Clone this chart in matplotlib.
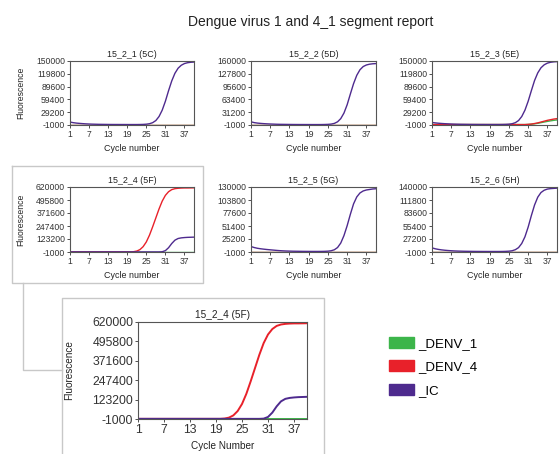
# -*- coding: utf-8 -*-
# Reporte de curvas qPCR, dengue 1 y 4
import matplotlib
matplotlib.use('Agg')
import matplotlib.pyplot as plt
from matplotlib.lines import Line2D

plt.rcParams['font.family'] = ['Liberation Sans', 'DejaVu Sans']

W, H = 559, 454

ciclos = list(range(1, 41))
ticks_x = [1, 7, 13, 19, 25, 31, 37]

# Datos (fluorescencia por ciclo)
ic_5c = [6000, 4500, 3500, 2800, 2200, 1700, 1300, 1000, 800, 600, 500, 400, 300, 250, 200, 200, 150, 150, 100, 100,
         100, 100, 200, 400, 900, 2000, 4500, 9500, 19000, 34000, 55000, 80000, 103000, 121000, 133000, 140000, 144000, 146000, 147000, 147500]
ic_5d = [7000, 5000, 3800, 3000, 2400, 1900, 1500, 1200, 900, 700, 600, 500, 400, 300, 250, 200, 200, 150, 150, 100,
         100, 100, 150, 300, 600, 1300, 3000, 7000, 15000, 29000, 50000, 77000, 103000, 124000, 138000, 146000, 150000, 152000, 153000, 153500]
ic_5e = [5000, 4000, 3200, 2600, 2100, 1700, 1300, 1000, 800, 600, 500, 400, 300, 250, 200, 150, 150, 100, 100, 100,
         100, 100, 200, 400, 900, 2000, 4500, 9500, 19000, 34000, 55000, 80000, 104000, 122000, 134000, 141000, 145000, 147000, 148000, 148500]
ic_5f = [0, 0, 0, 0, 0, 0, 0, 0, 0, 0, 0, 0, 0, 0, 0, 0, 0, 0, 0, 0,
         0, 0, 0, 0, 0, 0, 0, 0, 0, 1500, 12000, 40000, 80000, 112000, 128000, 134000, 137000, 139000, 140000, 141000]
ic_5g = [10000, 8000, 6500, 5500, 4700, 4000, 3400, 2800, 2200, 1700, 1300, 1000, 800, 600, 500, 400, 300, 250, 200, 150,
         150, 150, 200, 350, 700, 1500, 3500, 8000, 17000, 32000, 52000, 75000, 96000, 110000, 118000, 122000, 124000, 125000, 126000, 126500]
ic_5h = [8000, 6000, 4600, 3600, 2800, 2200, 1700, 1300, 1000, 800, 600, 500, 400, 300, 250, 200, 150, 150, 100, 100,
         100, 100, 200, 400, 800, 1700, 4000, 8500, 17500, 32000, 53000, 78000, 101000, 118000, 128000, 133000, 135500, 136500, 137000, 137500]

denv4_5f = [0, 0, 0, 0, 0, 0, 0, 0, 0, 0, 0, 0, 0, 0, 0, 0, 0, 0, 0, 0,
            2000, 8000, 22000, 50000, 95000, 160000, 240000, 325000, 410000, 485000, 540000, 575000, 595000, 604000, 608000, 610000, 611000, 611000, 611500, 612000]
denv4_5e = [0, 0, 0, 0, 0, 0, 0, 0, 0, 0, 0, 0, 0, 0, 0, 0, 0, 0, 0, 0,
            0, 0, 0, 0, 0, 0, 0, 0, 0, 0, 500, 1200, 2500, 4000, 6000, 8000, 10000, 11500, 13000, 14000]
denv1_5e = [0, 0, 0, 0, 0, 0, 0, 0, 0, 0, 0, 0, 0, 0, 0, 0, 0, 0, 0, 0,
            0, 0, 0, 0, 0, 0, 0, 0, 0, 0, 300, 900, 1800, 3000, 4500, 6000, 7500, 8800, 10000, 11000]
plano = [0, 0, 0, 0, 0, 0, 0, 0, 0, 0, 0, 0, 0, 0, 0, 0, 0, 0, 0, 0,
         0, 0, 0, 0, 0, 0, 0, 0, 0, 0, 0, 0, 0, 0, 0, 0, 0, 0, 0, 0]

titulos = ['15_2_1 (5C)', '15_2_2 (5D)', '15_2_3 (5E)', '15_2_4 (5F)', '15_2_5 (5G)', '15_2_6 (5H)']
ticks_y = [
    [-1000, 29200, 59400, 89600, 119800, 150000],
    [-1000, 31200, 63400, 95600, 127800, 160000],
    [-1000, 29200, 59400, 89600, 119800, 150000],
    [-1000, 123200, 247400, 371600, 495800, 620000],
    [-1000, 25200, 51400, 77600, 103800, 130000],
    [-1000, 27200, 55400, 83600, 111800, 140000],
]
# (DENV_1, DENV_4, IC) por panel
series = [
    (plano, plano, ic_5c),
    (plano, plano, ic_5d),
    (denv1_5e, denv4_5e, ic_5e),
    (plano, denv4_5f, ic_5f),
    (plano, plano, ic_5g),
    (plano, plano, ic_5h),
]
nombres = ['_DENV_1', '_DENV_4', '_IC']
colores = ['#3cb54a', '#e8212a', '#4e2a8e']


def caja(x0, y0, x1, y1):
    # caja en pixeles -> fracciones de figura
    return [x0 / W, 1 - y1 / H, (x1 - x0) / W, (y1 - y0) / H]


def linea(fig, xs, ys):
    fig.add_artist(Line2D([x / W for x in xs], [1 - y / H for y in ys],
                          transform=fig.transFigure, color='#c8c8c8', lw=1))


def dibujar_panel(ax, i, chico=True):
    fs_tick = 6.2 if chico else 8.8
    fs_lab = 6.4 if chico else 7.2
    lw = 1.0 if chico else 1.4
    for datos, color in zip(series[i], colores):
        ax.plot(ciclos, datos, color=color, lw=lw)
    ax.set_xlim(1, 40)
    ax.set_ylim(ticks_y[i][0], ticks_y[i][-1])
    ax.set_xticks(ticks_x)
    ax.set_yticks(ticks_y[i])
    ax.set_yticklabels([str(v) for v in ticks_y[i]])
    ax.tick_params(labelsize=fs_tick, length=2, width=0.6, pad=1.5, colors='#333333')
    for s in ax.spines.values():
        s.set_color('#555555')
        s.set_linewidth(0.8)
    ax.set_title(titulos[i], fontsize=fs_lab, pad=3, color='#222222')
    ax.set_xlabel('Cycle number' if chico else 'Cycle Number', fontsize=fs_lab,
                  labelpad=4, color='#222222')


fig = plt.figure(figsize=(W / 100, H / 100), dpi=100)

fig.text(311 / W, 1 - 22 / H, 'Dengue virus 1 and 4_1 segment report',
         ha='center', va='center', fontsize=10, color='#222222')

cols = [(70, 194), (251, 376), (432, 557)]
filas = [(61, 125), (187, 252)]
for i in range(6):
    x0, x1 = cols[i % 3]
    y0, y1 = filas[i // 3]
    ax = fig.add_axes(caja(x0, y0, x1, y1))
    dibujar_panel(ax, i)
    if i % 3 == 0:
        ax.set_ylabel('Fluorescence', fontsize=6.2, color='#222222')
        ax.yaxis.set_label_coords(-0.36, 0.5)

# panel ampliado
axg = fig.add_axes(caja(138, 322, 307, 419))
dibujar_panel(axg, 3, chico=False)
axg.set_ylabel('Fluorescence', fontsize=7.2, color='#222222')
axg.yaxis.set_label_coords(-0.38, 0.5)

# marcos y conector
linea(fig, [12, 203, 203, 12, 12], [166, 166, 283, 283, 166])
linea(fig, [23, 23, 62], [283, 370, 370])
linea(fig, [62, 62, 324, 324], [454, 298, 298, 454])

# leyenda
handles = [plt.Rectangle((0, 0), 1, 1, color=c) for c in colores]
fig.legend(handles, nombres, loc='center left', bbox_to_anchor=(377 / W, 1 - 367 / H),
           frameon=False, fontsize=9.5, handlelength=1.9, handleheight=0.9,
           handletextpad=0.35, labelspacing=0.8)

plt.savefig('out.png', dpi=100)
